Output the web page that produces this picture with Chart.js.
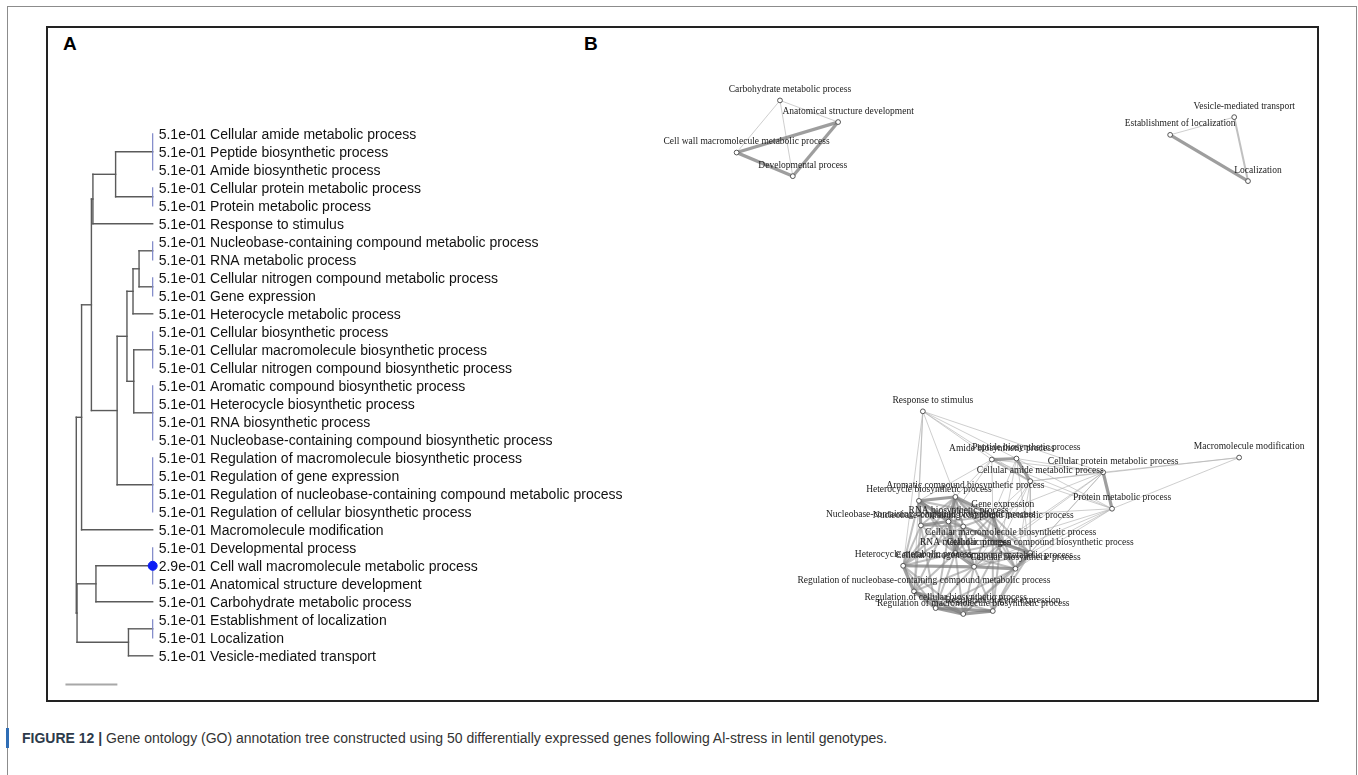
<!DOCTYPE html>
<html>
<head>
<meta charset="utf-8">
<script src="https://cdn.jsdelivr.net/npm/chart.js@4.4.0/dist/chart.umd.min.js"></script>
<style>
body{margin:0;background:#fff;width:1358px;height:775px;overflow:hidden;position:relative;font-family:"Liberation Sans",Arial,sans-serif}
#outer{position:absolute;left:7px;top:6px;width:1348px;height:820px;border:1px solid #8c8c8c;border-bottom:none}
#inner{position:absolute;left:46px;top:26px;width:1269px;height:672px;border:2px solid #222}
.tag{position:absolute;font-weight:bold;font-size:19px;color:#000;top:33px}
canvas{position:absolute}
#bar{position:absolute;left:6px;top:728px;width:3px;height:20px;background:#2f6db5}
#caption{position:absolute;left:22px;top:730px;font-size:14px;color:#333;white-space:nowrap}
#caption b{color:#2d3a4a}
</style>
</head>
<body>
<div id="outer"></div>
<div id="inner"></div>
<div class="tag" style="left:63px">A</div>
<div class="tag" style="left:584px">B</div>
<canvas id="tree" width="620" height="672" style="left:46px;top:26px"></canvas>
<canvas id="net" width="680" height="620" style="left:640px;top:60px"></canvas>
<div id="bar"></div>
<div id="caption"><b>FIGURE 12 |</b> Gene ontology (GO) annotation tree constructed using 50 differentially expressed genes following Al-stress in lentil genotypes.</div>
<script>
// ---- panel A: annotation tree ----
const terms = ['Cellular amide metabolic process','Peptide biosynthetic process','Amide biosynthetic process',
  'Cellular protein metabolic process','Protein metabolic process','Response to stimulus',
  'Nucleobase-containing compound metabolic process','RNA metabolic process','Cellular nitrogen compound metabolic process',
  'Gene expression','Heterocycle metabolic process','Cellular biosynthetic process',
  'Cellular macromolecule biosynthetic process','Cellular nitrogen compound biosynthetic process','Aromatic compound biosynthetic process',
  'Heterocycle biosynthetic process','RNA biosynthetic process','Nucleobase-containing compound biosynthetic process',
  'Regulation of macromolecule biosynthetic process','Regulation of gene expression','Regulation of nucleobase-containing compound metabolic process',
  'Regulation of cellular biosynthetic process','Macromolecule modification','Developmental process',
  'Cell wall macromolecule metabolic process','Anatomical structure development','Carbohydrate metabolic process',
  'Establishment of localization','Localization','Vesicle-mediated transport'];
const pvals = ['5.1e-01','5.1e-01','5.1e-01','5.1e-01','5.1e-01','5.1e-01','5.1e-01','5.1e-01','5.1e-01','5.1e-01',
  '5.1e-01','5.1e-01','5.1e-01','5.1e-01','5.1e-01','5.1e-01','5.1e-01','5.1e-01','5.1e-01','5.1e-01',
  '5.1e-01','5.1e-01','5.1e-01','5.1e-01','2.9e-01','5.1e-01','5.1e-01','5.1e-01','5.1e-01','5.1e-01'];
// merges: children are leaf rows or earlier merges ('m' + index)
const mergeChildren = [
  [0,1,2], [3,4], ['m0','m1'], ['m2',5],
  [6,7], [8,9], ['m4','m5'], ['m6',10],
  [11,12,13], [14,15,16,17], ['m8','m9'], ['m7','m10'],
  [18,19,20,21], ['m11','m12'], ['m3','m13'], ['m14',22],
  [23,24,25], ['m16',26], [27,28], ['m18',29],
  ['m17','m19'], ['m15','m20']
];
const mergeHeights = [0,0,0.49,0.79, 0,0,0.18,0.26, 0,0,0.25,0.34, 0,0.47,0.81,0.94, 0,0.75,0,0.32, 1.0,1.01];
const scaleBarLength = 0.66;

// ---- panel B: term network (layout units) ----
const netNodes = terms.slice();
const layout = {
  'Carbohydrate metabolic process':[13.7,3.6],'Anatomical structure development':[19.6,5.8],
  'Cell wall macromolecule metabolic process':[9.3,8.9],'Developmental process':[15.0,11.3],
  'Vesicle-mediated transport':[59.8,5.3],'Establishment of localization':[53.3,7.1],'Localization':[61.2,11.8],
  'Response to stimulus':[28.2,35.2],'Amide biosynthetic process':[35.2,40.1],'Peptide biosynthetic process':[37.7,40.0],
  'Cellular protein metabolic process':[46.5,41.4],'Cellular amide metabolic process':[39.1,42.3],
  'Macromolecule modification':[60.3,39.9],'Protein metabolic process':[47.4,45.1],
  'Aromatic compound biosynthetic process':[31.5,43.9],'Heterocycle biosynthetic process':[27.8,44.3],
  'Gene expression':[35.3,45.8],'RNA biosynthetic process':[30.8,46.4],
  'Nucleobase-containing compound metabolic process':[32.3,46.9],'Nucleobase-containing compound biosynthetic process':[28.0,46.8],
  'Cellular macromolecule biosynthetic process':[36.1,48.6],'RNA metabolic process':[31.5,49.6],
  'Cellular nitrogen compound biosynthetic process':[39.1,49.6],'Heterocycle metabolic process':[26.2,50.9],
  'Cellular nitrogen compound metabolic process':[33.4,51.0],'Cellular biosynthetic process':[37.6,51.2],
  'Regulation of nucleobase-containing compound metabolic process':[27.3,53.5],'Regulation of cellular biosynthetic process':[29.5,55.2],
  'Regulation of macromolecule biosynthetic process':[32.3,55.8],'Regulation of gene expression':[35.3,55.5]
};
const nodeX = netNodes.map(n => layout[n][0]);
const nodeY = netNodes.map(n => layout[n][1]);
// edges: [row a, row b, weight 1..3]
const edges = [
  [24,25,3],[25,23,3],[24,23,3],[26,24,1],[26,23,1],[26,25,1],
  [27,28,3],[27,29,1],[29,28,2],
  [5,2,1],[5,1,1],[5,0,1],[5,15,1],[5,10,1],[5,20,1],[5,3,1],[5,14,1],
  [2,1,3],[2,0,2],[1,0,3],[2,3,1],[1,3,1],[0,3,1],[0,4,1],[3,4,3],[2,4,1],[1,4,1],
  [22,3,1],[22,4,1],[22,0,1],
  [2,14,1],[2,9,1],[1,9,1],[0,9,1],[0,13,1],[0,11,1],[3,9,1],[3,13,1],[3,12,1],[3,11,1],
  [4,9,1],[4,12,1],[4,13,1],[4,11,1],[1,12,1],[2,15,1],[0,12,1],[0,8,1],[4,8,1],[3,8,1],[1,13,1],[2,16,1],
  [15,14,3],[15,16,3],[14,16,3],[15,17,3],[17,16,3],[10,20,3],[20,21,3],[21,18,3],[18,19,3],[20,18,3],
  [21,19,3],[12,13,3],[13,11,3],[8,11,3],[7,8,3],[10,8,3],[16,7,3],[6,7,3],[9,12,3],[14,9,3],
  [14,6,2],[14,17,2],[14,12,2],[14,7,2],[14,13,2],[14,10,2],[14,8,2],[14,11,2],[15,9,2],[15,6,2],
  [15,7,2],[15,10,2],[15,8,2],[9,16,2],[9,6,2],[9,7,2],[9,13,2],[9,8,2],[9,11,2],[16,6,2],
  [16,12,2],[16,10,2],[16,8,2],[16,20,2],[6,17,2],[6,12,2],[6,13,2],[6,8,2],[6,10,2],[17,7,2],
  [17,10,2],[17,20,2],[12,7,2],[12,8,2],[12,11,2],[12,18,2],[7,13,2],[7,10,2],[7,11,2],[7,20,2],
  [13,8,2],[13,18,2],[13,19,2],[10,21,2],[8,20,2],[8,21,2],[8,18,2],[11,18,2],[11,19,2],[11,21,2],
  [20,19,2],[10,18,2],[17,21,2],[12,19,2],[7,21,2],[7,18,2],[8,19,2],[9,19,2],[14,21,2]
];

// ---------- helpers ----------
function fitRange(v0, p0, v1, p1, size) {
  const k = (p1 - p0) / (v1 - v0);
  const a = v0 - p0 / k, b = a + size / k;
  return {min: Math.min(a, b), max: Math.max(a, b)};
}
function seg(x1, y1, x2, y2, color, width, order) {
  return {type: 'scatter', showLine: true, data: [{x: x1, y: y1}, {x: x2, y: y2}], borderColor: color,
    borderWidth: width, pointRadius: 0, pointHoverRadius: 0, clip: false, order: order || 1, borderCapStyle: 'square'};
}

// ---------- build tree segments ----------
const nodeRow = [], nodeH = [];
const treeSets = [];
const rowOf = c => typeof c === 'string' ? nodeRow[+c.slice(1)] : c;
const hOf = c => typeof c === 'string' ? nodeH[+c.slice(1)] : 0;
mergeChildren.forEach((ch, i) => {
  const h = mergeHeights[i];
  const rows = ch.map(rowOf);
  nodeRow[i] = rows.reduce((s, r) => s + r, 0) / rows.length;
  nodeH[i] = h;
  const lo = Math.min(...rows), hi = Math.max(...rows);
  treeSets.push(seg(h, lo, h, hi, h === 0 ? '#7d86c8' : '#5a5a5a', h === 0 ? 1.2 : 1.4, 2));
  if (h > 0) ch.forEach(c => treeSets.push(seg(h, rowOf(c), hOf(c), rowOf(c), '#5a5a5a', 1.4, 2)));
});
// scale bar, left end just inside the frame
const barStart = 1.14;
treeSets.push(seg(barStart, 30.6, barStart - scaleBarLength, 30.6, '#a8a8a8', 2, 2));
const hitRows = pvals.map((p, i) => parseFloat(p) < 0.5 ? i : -1).filter(i => i >= 0);
treeSets.unshift({type: 'scatter', data: hitRows.map(r => ({x: 0, y: r})), pointRadius: 4.5,
  pointBackgroundColor: '#0b1cf5', pointBorderColor: '#0b1cf5', clip: false, order: 0});

const xr = fitRange(0, 103, 1, 26, 620);
const yr = fitRange(0, 104, 29, 634.7, 672);

const leafLabels = {
  id: 'leafLabels',
  afterDatasetsDraw(chart) {
    const {ctx, scales: {x, y}} = chart;
    ctx.save();
    ctx.font = '14px "Liberation Sans", Arial, sans-serif';
    ctx.fillStyle = '#111';
    ctx.textBaseline = 'middle';
    terms.forEach((t, i) => ctx.fillText(pvals[i] + ' ' + t, x.getPixelForValue(0) + 6, y.getPixelForValue(i) + 1));
    ctx.restore();
  }
};

new Chart(document.getElementById('tree'), {
  type: 'scatter',
  data: {datasets: treeSets},
  options: {
    responsive: false, animation: false, devicePixelRatio: 1,
    layout: {padding: 0},
    plugins: {legend: {display: false}, tooltip: {enabled: false}},
    scales: {
      x: {type: 'linear', display: false, reverse: true, min: xr.min, max: xr.max},
      y: {type: 'linear', display: false, reverse: true, min: yr.min, max: yr.max}
    }
  },
  plugins: [leafLabels]
});

// ---------- network ----------
const edgeStyle = {
  1: ['rgba(180,180,180,0.65)', 1],
  2: ['rgba(140,140,140,0.55)', 2],
  3: ['rgba(125,125,125,0.75)', 3.2]
};
const netSets = [{type: 'scatter', data: nodeX.map((v, i) => ({x: v, y: nodeY[i]})), pointRadius: 2.4,
  pointBackgroundColor: '#fff', pointBorderColor: '#555', pointBorderWidth: 1, clip: false, order: 0}];
edges.forEach(([a, b, w]) => {
  netSets.push(seg(nodeX[a], nodeY[a], nodeX[b], nodeY[b], edgeStyle[w][0], edgeStyle[w][1], 4 - w));
});

const nodeLabels = {
  id: 'nodeLabels',
  afterDatasetsDraw(chart) {
    const {ctx, scales: {x, y}} = chart;
    ctx.save();
    ctx.font = '9.5px "Liberation Serif", "Times New Roman", serif';
    ctx.fillStyle = '#222';
    ctx.textAlign = 'center';
    ctx.textBaseline = 'middle';
    netNodes.forEach((t, i) => ctx.fillText(t, x.getPixelForValue(nodeX[i]) + 10, y.getPixelForValue(nodeY[i]) - 11));
    ctx.restore();
  }
};

new Chart(document.getElementById('net'), {
  type: 'scatter',
  data: {datasets: netSets},
  options: {
    responsive: false, animation: false, devicePixelRatio: 1,
    layout: {padding: 0},
    plugins: {legend: {display: false}, tooltip: {enabled: false}},
    scales: {
      x: {type: 'linear', display: false, min: 0, max: 68},
      y: {type: 'linear', display: false, reverse: true, min: 0, max: 62}
    }
  },
  plugins: [nodeLabels]
});
</script>
</body>
</html>
